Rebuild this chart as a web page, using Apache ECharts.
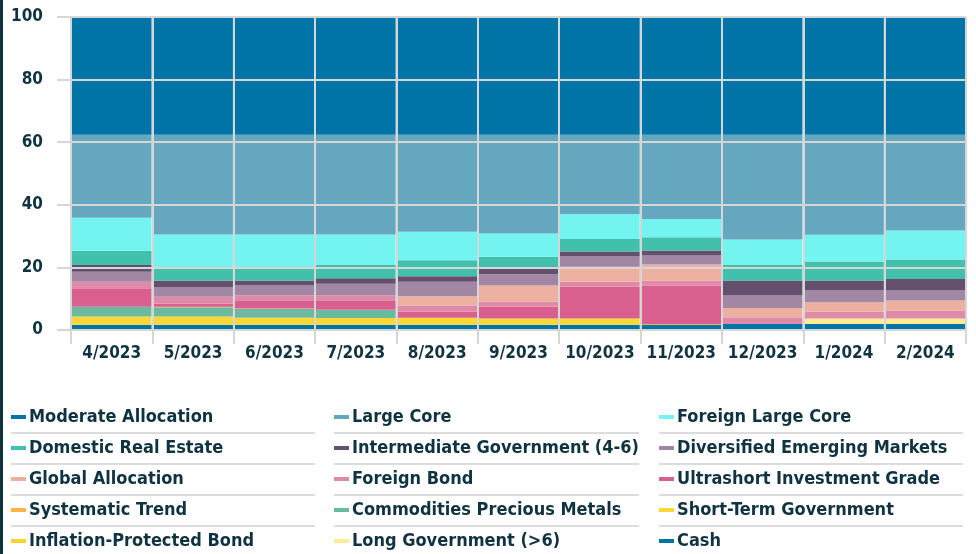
<!DOCTYPE html>
<html>
<head>
<meta charset="utf-8">
<script src="https://cdn.jsdelivr.net/npm/echarts@6/dist/echarts.min.js"></script>
<style>
  html, body { margin: 0; padding: 0; background: #fff; }
  #chart { width: 976px; height: 554px; }
</style>
</head>
<body>
<div id="chart"></div>
<script>
// 月份
var months = ['4/2023', '5/2023', '6/2023', '7/2023', '8/2023', '9/2023', '10/2023', '11/2023', '12/2023', '1/2024', '2/2024']
var yTicks = [0, 20, 40, 60, 80, 100]

// 各类资产占比 (%)
var moderateAllocation = [37.6, 37.6, 37.6, 37.6, 37.6, 37.6, 37.6, 37.6, 37.6, 37.6, 37.6]
var largeCore = [26.5, 31.9, 31.9, 31.9, 31.0, 31.6, 25.4, 26.9, 33.5, 32.0, 30.6]
var foreignLargeCore = [10.6, 10.25, 10.25, 9.6, 9.1, 7.4, 7.9, 5.9, 8.0, 8.55, 9.3]
var domesticRealEstate = [4.5, 4.45, 4.45, 4.4, 5.15, 3.6, 4.0, 4.2, 5.1, 6.05, 6.2]
var intermediateGov = [2.15, 2.2, 1.6, 1.7, 1.7, 2.0, 1.65, 1.6, 4.8, 3.0, 3.7]
var diversifiedEM = [3.2, 2.95, 3.2, 3.8, 4.7, 3.6, 3.25, 2.9, 3.95, 3.95, 3.2]
var globalAllocation = [0, 0, 0, 0, 2.95, 5.15, 4.75, 5.1, 3.0, 3.0, 3.2]
var foreignBond = [2.15, 2.15, 1.7, 1.7, 1.95, 1.6, 1.6, 1.6, 2.15, 2.15, 2.5]
var ultrashort = [5.85, 1.05, 2.4, 2.8, 1.9, 3.75, 10.15, 12.3, 0, 0, 0]
var systematicTrend = [0, 0.2, 0.2, 0.1, 0, 0, 0, 0.3, 0, 0, 0]
var commodities = [3.1, 2.9, 2.75, 2.55, 0, 0, 0, 0, 0, 0, 0]
var shortTermGov = [2.65, 2.65, 2.25, 2.15, 2.25, 2.0, 2.0, 0, 0, 0, 0]
var inflationProtected = [0, 0, 0, 0, 0, 0, 0, 0, 0, 0, 0]
var longGov = [0, 0, 0, 0, 0, 0, 0, 0, 0, 1.8, 1.8]
var cash = [1.7, 1.7, 1.7, 1.7, 1.7, 1.7, 1.7, 1.6, 1.9, 1.9, 1.9]

// 图例顺序（按行）
var names = [
  'Moderate Allocation', 'Large Core', 'Foreign Large Core',
  'Domestic Real Estate', 'Intermediate Government (4-6)', 'Diversified Emerging Markets',
  'Global Allocation', 'Foreign Bond', 'Ultrashort Investment Grade',
  'Systematic Trend', 'Commodities Precious Metals', 'Short-Term Government',
  'Inflation-Protected Bond', 'Long Government (>6)', 'Cash'
]
var values = [
  moderateAllocation, largeCore, foreignLargeCore,
  domesticRealEstate, intermediateGov, diversifiedEM,
  globalAllocation, foreignBond, ultrashort,
  systematicTrend, commodities, shortTermGov,
  inflationProtected, longGov, cash
]
var colors = [
  '#0073a7', '#65a7bf', '#74f4f1',
  '#41c0ab', '#654f6e', '#a287a5',
  '#edaf9f', '#e08aa9', '#d9608e',
  '#ffb348', '#6bb99e', '#fdd835',
  '#f9d42c', '#fdec93', '#0073a7'
]

var FONT = "'Liberation Sans Narrow', 'DejaVu Sans Condensed', 'Roboto', sans-serif"
var TEXT = '#0f3340'
var GRID = '#d6d6d6'

var chart = echarts.init(document.getElementById('chart'))

// 堆叠顺序：Cash 在最下面
var series = []
for (var i = names.length - 1; i >= 0; i--) {
  series.push({
    name: names[i],
    type: 'bar',
    stack: 'total',
    barCategoryGap: '2%',
    itemStyle: { color: colors[i] },
    emphasis: { disabled: true },
    data: values[i]
  })
}

// 三列图例
function legendCol(idx, left) {
  return {
    orient: 'vertical',
    left: left,
    top: 406,
    padding: 0,
    itemGap: 9,
    itemWidth: 15,
    itemHeight: 4,
    icon: 'rect',
    selectedMode: false,
    data: [names[idx], names[idx + 3], names[idx + 6], names[idx + 9], names[idx + 12]],
    textStyle: {
      fontFamily: FONT,
      fontWeight: 'bold',
      fontSize: 18,
      lineHeight: 22,
      color: TEXT,
      padding: [0, 0, 0, -2]
    }
  }
}

// 图例分隔线
var sepLines = []
var cols = [[11, 315], [334, 639], [659, 963]]
var rows = [432, 463, 494, 525]
cols.forEach(function (c) {
  rows.forEach(function (y) {
    sepLines.push({
      type: 'rect',
      shape: { x: c[0], y: y, width: c[1] - c[0], height: 2 },
      style: { fill: '#dcdcdc' },
      silent: true
    })
  })
})
sepLines.push({
  type: 'rect',
  shape: { x: 0, y: 0, width: 3, height: 554 },
  style: { fill: TEXT },
  silent: true
})

chart.setOption({
  animation: false,
  color: colors,
  grid: { left: 71, right: 10, top: 17, bottom: 224 },
  legend: [legendCol(0, 11), legendCol(1, 334), legendCol(2, 659)],
  graphic: sepLines,
  xAxis: {
    type: 'category',
    data: months,
    z: 5,
    axisLine: { lineStyle: { color: GRID, width: 2 } },
    axisTick: { show: true, length: 14, lineStyle: { color: GRID, width: 2 } },
    splitLine: { show: true, lineStyle: { color: GRID, width: 2 } },
    axisLabel: {
      interval: 0,
      margin: 15,
      fontFamily: FONT,
      fontWeight: 'bold',
      fontSize: 17,
      color: TEXT
    }
  },
  yAxis: {
    type: 'value',
    min: yTicks[0],
    max: yTicks[yTicks.length - 1],
    interval: 20,
    z: 5,
    axisLine: { show: false },
    axisTick: { show: true, length: 14, lineStyle: { color: GRID, width: 2 } },
    splitLine: { show: true, lineStyle: { color: GRID, width: 2 } },
    axisLabel: {
      margin: 28,
      fontFamily: FONT,
      fontWeight: 'bold',
      fontSize: 17,
      color: TEXT
    }
  },
  series: series
})
</script>
</body>
</html>
